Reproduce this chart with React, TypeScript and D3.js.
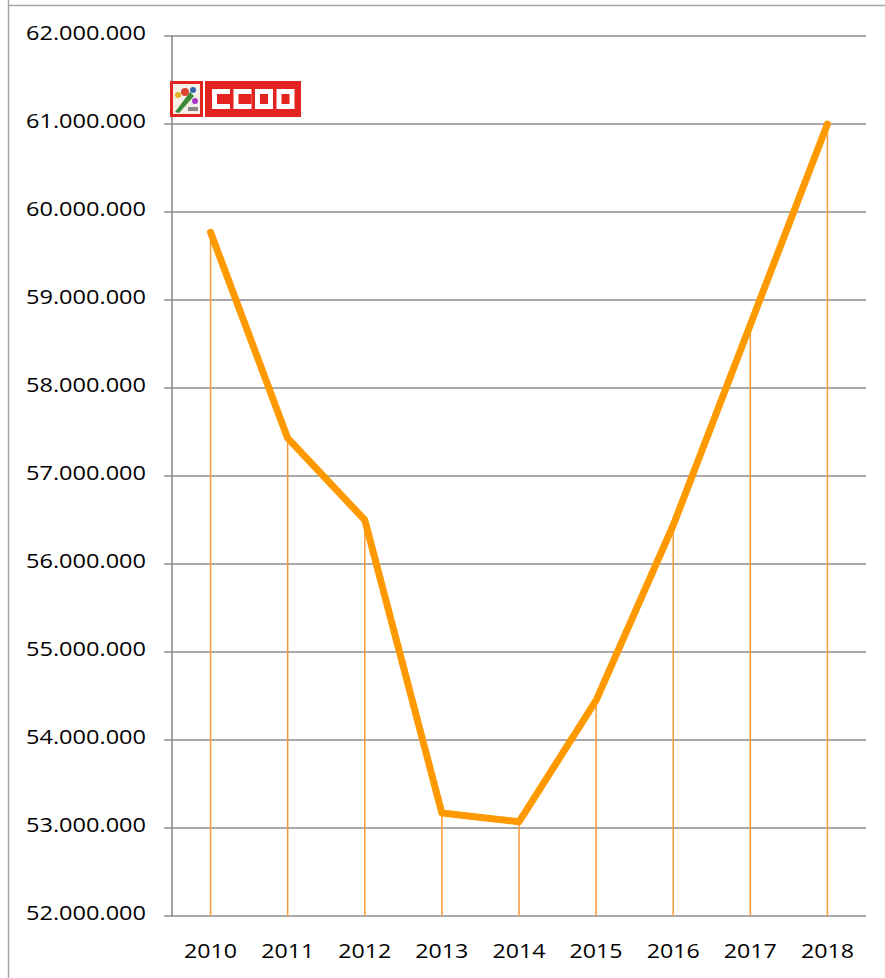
import React from "react";
import * as d3 from "d3";

const years = ["2010", "2011", "2012", "2013", "2014", "2015", "2016", "2017", "2018"];
const values = [59770000, 57430000, 56500000, 53170000, 53070000, 54450000, 56440000, 58720000, 61000000];
const yTicks = [52000000, 53000000, 54000000, 55000000, 56000000, 57000000, 58000000, 59000000, 60000000, 61000000, 62000000];

const W = 885;
const H = 978;
const plot = { left: 172, right: 866, top: 36, bottom: 916 };

const fmt = (v: number) => d3.format(",")(v).replace(/,/g, ".");

export default function App() {
  const x = d3.scaleBand<string>().domain(years).range([plot.left, plot.right]);
  const y = d3.scaleLinear().domain([52000000, 62000000]).range([plot.bottom, plot.top]);
  const cx = (yr: string) => (x(yr) as number) + x.bandwidth() / 2;
  const line = d3
    .line<number>()
    .x((_, i) => cx(years[i]))
    .y((d) => y(d));
  const font = "'Open Sans', 'Noto Sans', sans-serif";

  return (
    <svg
      width={W}
      height={H}
      style={{ position: "absolute", left: 0, top: 0, background: "#fff" }}
    >
      <line x1={8.5} y1={0} x2={8.5} y2={H} stroke="#a6a6a6" strokeWidth={1.5} />
      <line x1={8} y1={5.5} x2={W} y2={5.5} stroke="#a6a6a6" strokeWidth={1.5} />

      {yTicks.map((t) => (
        <g key={t}>
          <line
            x1={plot.left - 8}
            x2={plot.right}
            y1={y(t)}
            y2={y(t)}
            stroke="#8c8c8c"
            strokeWidth={1.6}
          />
          <text
            x={26}
            y={y(t) + 3.5}
            textAnchor="start"
            fontFamily={font}
            fontSize={19.5}
            textLength={120}
            lengthAdjust="spacingAndGlyphs"
            fill="#000"
          >
            {fmt(t)}
          </text>
        </g>
      ))}
      <line x1={plot.left} x2={plot.left} y1={plot.top} y2={plot.bottom} stroke="#8c8c8c" strokeWidth={1.6} />

      {years.map((yr, i) => (
        <g key={yr}>
          <line
            x1={cx(yr)}
            x2={cx(yr)}
            y1={y(values[i])}
            y2={plot.bottom}
            stroke="#f79a3a"
            strokeWidth={1.5}
          />
          <text
            x={cx(yr) - 26.5}
            y={958}
            textAnchor="start"
            fontFamily={font}
            fontSize={19.5}
            textLength={53}
            lengthAdjust="spacingAndGlyphs"
            fill="#000"
          >
            {yr}
          </text>
        </g>
      ))}

      <path
        d={line(values) || ""}
        fill="none"
        stroke="#ff9900"
        strokeWidth={7}
        strokeLinejoin="round"
        strokeLinecap="round"
      />

      {/* logo */}
      <g>
        <rect x={170} y={81} width={33} height={36} fill="#e3231f" />
        <rect x={173} y={84} width={27} height={30} fill="#f4f0e8" />
        <path d="M175 112 L190 92 L194 96 L179 113 Z" fill="#3a8a3a" />
        <circle cx={185} cy={92} r={4} fill="#d43" />
        <circle cx={193} cy={90} r={3} fill="#36a" />
        <circle cx={178} cy={95} r={3} fill="#e8b020" />
        <circle cx={195} cy={101} r={3} fill="#a3c" />
        <rect x={188} y={107} width={10} height={4} fill="#888" />
        <rect x={205} y={81} width={96} height={36} fill="#e3231f" />
        {[0, 1, 2, 3].map((k) => {
          const lx = 212 + k * 21.5;
          const isO = k >= 2;
          return (
            <g key={k}>
              <rect x={lx} y={89} width={18} height={20} fill="#fff" />
              <rect
                x={lx + 5}
                y={94}
                width={isO ? 8 : 13}
                height={10}
                fill="#e3231f"
              />
            </g>
          );
        })}
      </g>
    </svg>
  );
}
